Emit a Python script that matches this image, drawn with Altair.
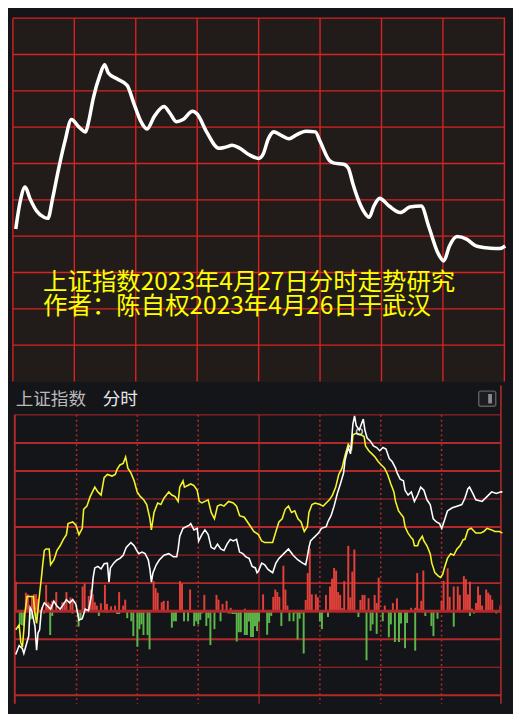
import altair as alt
import pandas as pd

# ---------------- data ----------------
# Top panel: hand-drawn forecast curve (minutes after 9:30, relative level 0-100)
top_curve = [
    (1.4, 42.0), (3.7, 49.9), (6.0, 53.5), (8.3, 50.4), (11.5, 47.0), (15.2, 45.2),
    (17.1, 44.9), (19.4, 50.4), (22.2, 58.2), (25.4, 66.1), (28.6, 72.1), (32.3, 70.0),
    (35.5, 68.7), (36.9, 71.3), (39.2, 77.8), (42.5, 84.3), (44.8, 87.2), (46.6, 84.9),
    (50.8, 83.3), (55.8, 81.5), (59.1, 76.5), (62.3, 71.8), (65.5, 69.5), (69.2, 73.1),
    (73.8, 75.7), (76.6, 73.9), (79.8, 71.5), (83.1, 72.1), (87.7, 74.4), (90.0, 73.6),
    (94.6, 68.7), (100.6, 64.2), (103.8, 64.5), (107.1, 65.0), (110.8, 64.2), (115.4, 62.4),
    (120.0, 61.4), (122.3, 62.7), (124.6, 66.6), (127.4, 68.7), (131.5, 67.6), (134.8, 66.8),
    (138.5, 67.9), (143.1, 68.9), (147.7, 68.7), (150.0, 66.1), (154.6, 60.8), (156.9, 60.1),
    (161.5, 59.8), (163.8, 58.7), (166.1, 54.3), (168.4, 50.4), (171.7, 46.5), (174.0, 45.2),
    (176.3, 48.3), (179.1, 50.4), (183.7, 48.3), (189.2, 46.5), (193.8, 48.0), (199.4, 48.3),
    (203.1, 42.6), (207.7, 35.2), (210.4, 33.2), (213.2, 37.3), (216.9, 39.9), (221.5, 39.2),
    (226.1, 37.3), (230.8, 36.8), (235.4, 36.6), (237.7, 36.6), (240.4, 37.3),
]
top_title_lines = ["上证指数2023年4月27日分时走势研究", "作者：陈自权2023年4月26日于武汉"]

# Bottom panel: intraday index (white) and yellow line, minutes after 9:30
white_line = [
    (0.0, 3262.9), (1.7, 3265.7), (3.3, 3264.7), (4.0, 3263.2), (6.4, 3268.7), (7.1, 3277.7),
    (7.9, 3276.7), (9.5, 3271.7), (10.3, 3264.2), (11.0, 3269.7), (11.8, 3270.7), (12.6, 3276.7),
    (13.4, 3278.2), (14.1, 3279.2), (17.2, 3277.2), (18.8, 3279.7), (20.3, 3278.2), (21.9, 3277.2),
    (23.5, 3278.7), (25.0, 3280.2), (26.6, 3279.2), (28.1, 3280.2), (29.7, 3278.7), (30.4, 3276.2),
    (31.2, 3273.7), (32.8, 3274.2), (34.3, 3277.2), (35.9, 3276.7), (37.4, 3281.7), (38.2, 3287.2),
    (39.0, 3290.2), (40.5, 3290.7), (42.1, 3289.9), (43.6, 3291.5), (45.2, 3291.7), (46.0, 3285.7),
    (46.7, 3290.2), (48.3, 3291.7), (49.9, 3292.7), (51.4, 3293.2), (53.0, 3294.2), (54.5, 3296.7),
    (56.8, 3298.2), (58.4, 3297.2), (59.5, 3295.9), (60.7, 3294.7), (62.3, 3295.2), (63.8, 3294.7),
    (65.4, 3292.7), (66.2, 3289.7), (66.9, 3285.7), (67.7, 3288.7), (69.3, 3291.2), (70.8, 3292.7),
    (73.1, 3294.2), (75.5, 3294.7), (77.8, 3293.7), (79.4, 3293.7), (80.1, 3296.2), (80.9, 3300.2),
    (82.5, 3302.7), (85.6, 3303.7), (86.3, 3304.2), (87.9, 3302.2), (89.5, 3302.7), (90.2, 3298.7),
    (91.8, 3300.7), (93.3, 3302.2), (94.9, 3300.7), (96.4, 3296.7), (98.0, 3296.2), (99.5, 3297.7),
    (101.1, 3296.2), (102.7, 3295.7), (104.2, 3297.7), (105.8, 3299.2), (107.3, 3298.7), (108.9, 3299.2),
    (110.4, 3295.2), (112.0, 3294.7), (113.5, 3293.7), (115.1, 3293.2), (116.6, 3290.7), (118.2, 3290.2),
    (119.0, 3288.7), (119.7, 3289.2), (121.3, 3291.7), (122.8, 3291.2), (124.4, 3289.7), (126.7, 3288.7),
    (128.3, 3291.7), (129.8, 3293.2), (132.2, 3294.7), (134.5, 3296.2), (136.8, 3294.2), (139.2, 3292.7),
    (141.5, 3291.7), (143.0, 3291.2), (143.8, 3293.7), (144.6, 3296.7), (145.4, 3298.7), (146.9, 3299.7),
    (149.3, 3301.2), (150.8, 3302.7), (153.1, 3303.2), (153.9, 3304.7), (155.5, 3306.7), (157.0, 3309.7),
    (158.6, 3313.7), (160.1, 3316.7), (161.7, 3320.2), (162.4, 3324.2), (164.0, 3328.2), (165.1, 3326.2),
    (165.9, 3332.7), (166.3, 3335.7), (167.1, 3338.2), (167.9, 3335.2), (169.4, 3333.7), (171.4, 3337.2),
    (172.2, 3333.7), (173.3, 3331.2), (174.9, 3330.2), (176.4, 3328.7), (178.0, 3328.2), (179.5, 3327.2),
    (181.1, 3328.2), (182.6, 3327.7), (184.2, 3324.7), (185.7, 3323.7), (187.3, 3321.7), (188.1, 3320.2),
    (189.6, 3318.2), (191.2, 3317.7), (192.0, 3314.7), (193.5, 3313.2), (195.1, 3314.2), (196.6, 3311.2),
    (198.2, 3313.2), (199.7, 3315.7), (201.3, 3314.7), (202.8, 3311.7), (204.4, 3310.2), (205.9, 3305.7),
    (207.5, 3304.7), (209.0, 3304.2), (210.1, 3302.7), (211.4, 3305.2), (212.9, 3308.2), (215.3, 3309.2),
    (217.6, 3309.7), (220.0, 3310.2), (221.5, 3312.2), (223.0, 3315.2), (223.8, 3315.7), (225.4, 3313.7),
    (226.9, 3311.7), (230.0, 3311.2), (232.4, 3312.7), (234.7, 3314.2), (237.0, 3313.7), (239.4, 3314.2),
    (240.0, 3314.2),
]
yellow_line = [
    (0.0, 3270.7), (1.7, 3272.2), (2.5, 3266.7), (3.3, 3265.2), (4.0, 3270.7), (4.5, 3275.7),
    (5.6, 3281.2), (7.1, 3281.2), (8.7, 3281.2), (9.5, 3275.7), (10.3, 3272.7), (11.0, 3277.2),
    (11.8, 3282.2), (12.6, 3286.7), (13.4, 3291.7), (14.1, 3295.7), (14.9, 3296.2), (16.5, 3296.2),
    (17.2, 3291.2), (18.8, 3292.7), (19.6, 3294.2), (20.3, 3295.7), (21.9, 3297.2), (23.5, 3299.2),
    (25.0, 3300.7), (25.8, 3304.2), (28.1, 3304.7), (29.7, 3303.7), (31.2, 3300.7), (32.8, 3302.7),
    (33.5, 3308.7), (35.1, 3309.7), (36.7, 3312.7), (39.0, 3315.7), (40.5, 3314.2), (42.1, 3313.2),
    (43.6, 3318.7), (45.2, 3319.7), (47.5, 3319.2), (49.1, 3319.7), (49.9, 3321.2), (51.4, 3322.7),
    (53.0, 3323.2), (54.2, 3325.2), (55.3, 3321.7), (56.8, 3320.2), (58.4, 3317.7), (59.9, 3314.2),
    (61.5, 3312.7), (63.1, 3311.7), (64.6, 3310.2), (66.2, 3305.7), (66.9, 3302.2), (68.2, 3307.7),
    (70.0, 3310.7), (71.6, 3310.2), (73.1, 3312.2), (75.5, 3314.2), (77.0, 3313.2), (78.6, 3312.7),
    (80.1, 3311.2), (80.9, 3315.7), (82.5, 3317.7), (83.2, 3315.7), (84.8, 3316.2), (86.3, 3316.7),
    (87.9, 3316.2), (89.5, 3314.7), (90.5, 3311.2), (91.8, 3310.7), (93.3, 3311.2), (94.9, 3311.7),
    (96.4, 3307.7), (98.0, 3305.7), (99.5, 3309.7), (101.1, 3310.2), (102.7, 3309.7), (105.0, 3311.2),
    (107.3, 3310.7), (108.9, 3309.7), (110.4, 3306.7), (112.7, 3306.2), (114.3, 3304.7), (115.9, 3303.2),
    (117.4, 3301.7), (119.7, 3300.7), (121.3, 3298.7), (122.8, 3298.2), (126.7, 3298.2), (128.3, 3301.7),
    (129.8, 3304.7), (131.4, 3305.7), (132.9, 3308.7), (134.5, 3309.7), (136.0, 3307.7), (137.6, 3308.2),
    (139.2, 3305.7), (140.7, 3304.7), (142.3, 3301.7), (143.8, 3303.2), (144.6, 3307.7), (146.1, 3310.2),
    (147.7, 3310.7), (150.0, 3310.2), (151.6, 3309.7), (153.1, 3310.7), (154.7, 3311.7), (156.2, 3313.2),
    (157.8, 3315.7), (159.3, 3319.7), (160.9, 3321.7), (162.4, 3325.7), (164.0, 3329.2), (165.6, 3327.7),
    (166.3, 3332.2), (167.9, 3332.7), (170.2, 3332.2), (171.8, 3331.7), (172.5, 3328.7), (174.1, 3327.2),
    (175.7, 3326.2), (177.2, 3325.2), (178.8, 3323.7), (180.3, 3322.7), (181.9, 3321.7), (183.4, 3319.7),
    (185.0, 3316.7), (186.5, 3314.2), (187.3, 3311.2), (188.8, 3308.2), (191.2, 3306.2), (192.0, 3303.2),
    (193.5, 3301.2), (195.1, 3299.7), (195.9, 3299.2), (196.6, 3297.2), (198.2, 3297.2), (198.9, 3298.7),
    (200.5, 3300.2), (201.3, 3298.7), (202.8, 3297.2), (204.4, 3294.7), (205.2, 3291.7), (206.7, 3288.7),
    (208.3, 3287.7), (209.5, 3287.2), (210.6, 3288.2), (211.4, 3290.2), (212.9, 3293.2), (214.5, 3294.7),
    (216.0, 3294.2), (217.6, 3296.2), (219.1, 3297.2), (220.7, 3299.2), (221.5, 3299.2), (223.0, 3302.2),
    (224.6, 3302.7), (226.9, 3301.2), (229.3, 3301.2), (230.8, 3301.7), (232.4, 3302.7), (234.7, 3302.2),
    (236.2, 3301.7), (238.6, 3301.7), (240.0, 3301.2),
]
peak_marker = [(169.5, 3333.2)]

# Buying (red, up) and selling (green, down) volume bars by minute
red_bars = [
    (0, 10.5), (5, 6.6), (6, 6.0), (8, 5.4), (9, 6.0), (10, 6.0), (11, 4.3), (13, 1.5), (15, 9.4),
    (16, 3.2), (17, 2.6), (18, 3.7), (20, 6.8), (23, 3.2), (24, 3.2), (25, 6.8), (27, 4.9), (28, 3.7),
    (33, 8.8), (34, 9.9), (36, 5.4), (37, 7.7), (38, 6.0), (39, 3.2), (40, 2.0), (42, 2.8), (44, 9.4),
    (45, 2.6), (47, 1.7), (49, 2.0), (51, 6.8), (53, 2.0), (54, 4.1), (68, 10.7), (69, 8.2), (70, 6.6),
    (72, 3.2), (73, 3.7), (75, 3.7), (81, 10.7), (82, 9.9), (86, 7.7), (93, 5.8), (99, 5.8), (100, 4.1),
    (102, 2.6), (104, 3.7), (106, 1.2), (113, 0.9), (122, 6.0), (127, 5.1), (128, 7.7), (129, 6.8),
    (130, 5.1), (132, 16.2), (133, 7.7), (134, 2.0), (143, 4.0), (144, 13.6), (145, 22.4), (146, 6.0),
    (148, 6.0), (149, 4.9), (153, 5.8), (155, 8.8), (156, 11.6), (157, 15.4), (158, 14.5), (159, 6.8),
    (160, 5.8), (161, 1.1), (162, 10.7), (164, 23.3), (165, 4.9), (166, 14.1), (167, 22.0), (170, 4.0),
    (171, 5.8), (172, 5.8), (174, 4.6), (177, 5.8), (178, 2.9), (179, 11.9), (182, 2.0), (186, 2.9),
    (188, 4.6), (195, 1.2), (197, 1.2), (198, 13.6), (199, 0.9), (200, 3.7), (201, 14.5), (210, 3.7),
    (211, 10.8), (213, 15.3), (214, 5.1), (216, 8.8), (218, 8.8), (219, 5.8), (221, 12.5), (222, 11.4),
    (223, 6.0), (224, 10.5), (225, 0.9), (227, 2.9), (228, 8.8), (229, 5.8), (230, 2.0), (232, 7.7),
    (233, 6.6), (234, 5.8), (235, 4.1), (239, 2.0),
]
green_bars = [
    (2, -4.7), (3, -5.0), (4, -5.3), (7, -3.1), (8, -2.8), (10, -1.9), (14, -0.8), (17, -8.5),
    (18, -1.7), (28, -0.8), (31, -5.5), (32, -3.1), (41, -1.7), (45, -0.6), (50, -1.0), (51, -1.0),
    (55, -2.5), (57, -3.6), (58, -8.9), (60, -12.7), (61, -6.4), (62, -4.7), (63, -8.5), (65, -8.5),
    (66, -13.6), (77, -5.9), (78, -3.6), (79, -3.6), (83, -3.6), (85, -3.6), (88, -5.3), (89, -3.6),
    (90, -4.7), (91, -3.1), (92, -0.8), (94, -5.3), (95, -2.5), (96, -12.1), (98, -6.4), (101, -3.6),
    (105, -0.8), (106, -0.8), (107, -1.0), (108, -1.0), (109, -10.8), (110, -7.5), (111, -7.5),
    (113, -8.5), (114, -8.5), (115, -3.7), (116, -9.2), (117, -9.2), (118, -5.4), (119, -7.1),
    (120, -3.7), (124, -8.4), (125, -4.2), (126, -1.7), (131, -5.3), (135, -3.6), (137, -3.6),
    (138, -0.8), (139, -10.1), (140, -2.7), (141, -0.8), (142, -15.1), (150, -3.6), (151, -6.4),
    (154, -2.1), (169, -2.1), (173, -17.5), (175, -7.0), (176, -4.7), (178, -8.1), (181, -3.6),
    (184, -9.3), (185, -4.7), (187, -11.0), (189, -11.0), (190, -4.4), (192, -13.2), (193, -4.2),
    (197, -14.1), (202, -1.7), (205, -5.3), (206, -8.9), (208, -2.7), (216, -5.5), (224, -1.7),
    (226, -0.8), (237, -0.8), (239, -0.6),
]

# grid levels (price) of the bottom panel
grid_thick = [3250.0, 3267.7, 3285.4, 3303.1, 3320.8, 3329.65]
grid_thin = [3258.85, 3294.25, 3311.95, 3338.5]
zero_level = [3276.55]
half_hours_dotted = [30, 60, 90, 150, 180, 210]
midday = [120]
top_vgrid = [0, 30, 60, 90, 120, 150, 180, 210, 240]
top_hgrid = [10, 20, 30, 40, 50, 60, 70, 80, 90, 100]

# ---------------- layout ----------------
W = 504
TOP_H = 372
BOT_H = 326
SX = W / 521.0
SY = (TOP_H + BOT_H) / 718.0

TOP_BG = "#211c1a"
BOT_BG = "#141518"
TOP_RED = "#d92222"
BOT_RED = "#b3282a"

# ---------------- top panel ----------------
tx = alt.Scale(domain=[0, 240.4], nice=False, zero=False)
ty = alt.Scale(domain=[0, 100], nice=False, zero=False)

top_df = pd.DataFrame(top_curve, columns=["minute", "level"])

t_v = alt.Chart(pd.DataFrame({"m": top_vgrid})).mark_rule(color=TOP_RED, strokeWidth=1.4).encode(
    x=alt.X("m:Q", scale=tx, axis=None))
t_h = alt.Chart(pd.DataFrame({"v": top_hgrid})).mark_rule(color=TOP_RED, strokeWidth=1.4).encode(
    y=alt.Y("v:Q", scale=ty, axis=None))
t_line = alt.Chart(top_df).mark_line(color="white", strokeWidth=3.6, interpolate="monotone").encode(
    x=alt.X("minute:Q", scale=tx, axis=None),
    y=alt.Y("level:Q", scale=ty, axis=None),
)
one = pd.DataFrame({"a": [0]})
t_txt = alt.Chart(one).mark_text(
    text=top_title_lines, align="left", baseline="alphabetic", font="Noto Sans CJK SC",
    fontSize=25, lineHeight=25.5 * SY, color="#ffff00").encode(
    x=alt.value(32 * SX), y=alt.value(286 * SY))

top = alt.layer(t_v, t_h, t_line, t_txt).properties(
    width=W, height=TOP_H, view=alt.ViewBackground(fill=TOP_BG, stroke="transparent"))

# ---------------- bottom panel ----------------
bx = alt.Scale(domain=[-1.398, 241.38], nice=False, zero=False)
by = alt.Scale(domain=[3247.3, 3347.8], nice=False, zero=False)
bv = alt.Scale(domain=[-33.05, 80.51], nice=False, zero=False)

plot_top = (414 - 383) * SY
left_x = 2 * SX
right_x = 516.5 * SX

def hrules(levels, width):
    return alt.Chart(pd.DataFrame({"p": levels})).mark_rule(color=BOT_RED, strokeWidth=width).encode(
        y=alt.Y("p:Q", scale=by, axis=None), x=alt.value(left_x), x2=alt.value(right_x))

b_thick = hrules(grid_thick, 2.0)
b_thin = hrules(grid_thin, 1.0)
b_zero = hrules(zero_level, 3.0)

b_dot = alt.Chart(pd.DataFrame({"m": half_hours_dotted})).mark_rule(
    color=BOT_RED, strokeWidth=1.6, strokeDash=[2, 3]).encode(
    x=alt.X("m:Q", scale=bx, axis=None), y=alt.value(plot_top), y2=alt.value(BOT_H))
b_mid = alt.Chart(pd.DataFrame({"m": midday})).mark_rule(color=BOT_RED, strokeWidth=1.2).encode(
    x=alt.X("m:Q", scale=bx, axis=None), y=alt.value(plot_top), y2=alt.value(BOT_H))

b_left = alt.Chart(one).mark_rule(color=BOT_RED, strokeWidth=2).encode(
    x=alt.value(left_x), y=alt.value(plot_top), y2=alt.value(BOT_H))
b_right = alt.Chart(one).mark_rule(color=BOT_RED, strokeWidth=1.6).encode(
    x=alt.value(right_x), y=alt.value(0), y2=alt.value(BOT_H))

red_df = pd.DataFrame(red_bars, columns=["minute", "vol"])
green_df = pd.DataFrame(green_bars, columns=["minute", "vol"])
b_red = alt.Chart(red_df).mark_rule(color="#e3403a", strokeWidth=2).encode(
    x=alt.X("minute:Q", scale=bx, axis=None),
    y=alt.Y("vol:Q", scale=bv, axis=None), y2=alt.datum(0))
b_green = alt.Chart(green_df).mark_rule(color="#5cb64b", strokeWidth=2).encode(
    x=alt.X("minute:Q", scale=bx, axis=None),
    y=alt.Y("vol:Q", scale=bv, axis=None), y2=alt.datum(0))

yl_df = pd.DataFrame(yellow_line, columns=["minute", "price"])
wl_df = pd.DataFrame(white_line, columns=["minute", "price"])
b_yellow = alt.Chart(yl_df).mark_line(color="#f4f42a", strokeWidth=1.6).encode(
    x=alt.X("minute:Q", scale=bx, axis=None), y=alt.Y("price:Q", scale=by, axis=None))
b_white = alt.Chart(wl_df).mark_line(color="#ffffff", strokeWidth=1.6).encode(
    x=alt.X("minute:Q", scale=bx, axis=None), y=alt.Y("price:Q", scale=by, axis=None))
b_peak = alt.Chart(pd.DataFrame(peak_marker, columns=["minute", "price"])).mark_point(
    shape="circle", filled=False, color="#ffffff", strokeWidth=1.6, size=36).encode(
    x=alt.X("minute:Q", scale=bx, axis=None), y=alt.Y("price:Q", scale=by, axis=None))

hdr_y = (398 - 383) * SY
b_h1 = alt.Chart(one).mark_text(text="上证指数", align="left", baseline="middle",
                                font="Noto Sans CJK SC", fontSize=18, color="#b9b9b9").encode(
    x=alt.value(3 * SX), y=alt.value(hdr_y))
b_h2 = alt.Chart(one).mark_text(text="分时", align="left", baseline="middle",
                                font="Noto Sans CJK SC", fontSize=18, color="#e6e6e6").encode(
    x=alt.value(95 * SX), y=alt.value(hdr_y))
b_icon = alt.Chart(one).mark_rect(fill="#1c1d21", stroke="#5c5c5c", strokeWidth=1.5, cornerRadius=2).encode(
    x=alt.value(493 * SX), x2=alt.value(511 * SX),
    y=alt.value((389 - 383) * SY), y2=alt.value((405 - 383) * SY))
b_icon2 = alt.Chart(one).mark_rect(fill="#8c8c8c").encode(
    x=alt.value(503 * SX), x2=alt.value(507 * SX),
    y=alt.value((392 - 383) * SY), y2=alt.value((402 - 383) * SY))

bottom = alt.layer(
    b_thin, b_thick, b_dot, b_mid, b_red, b_green, b_zero, b_left, b_right,
    b_yellow, b_white, b_peak, b_h1, b_h2, b_icon, b_icon2,
).resolve_scale(y="independent").properties(
    width=W, height=BOT_H, view=alt.ViewBackground(fill=BOT_BG, stroke="transparent"))

chart = alt.vconcat(top, bottom, spacing=0).properties(
    padding=0, background=BOT_BG
).configure_view(stroke="transparent")

chart.save("out.html", embed_options={"renderer": "svg", "actions": False})
